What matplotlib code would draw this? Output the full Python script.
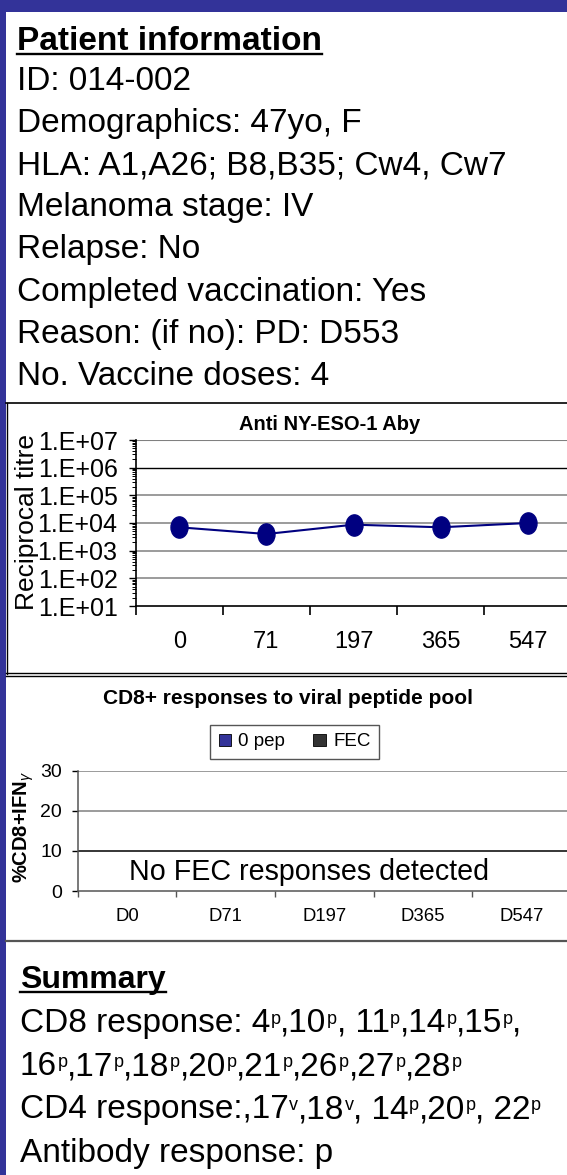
import re
import matplotlib
matplotlib.use('Agg')
import matplotlib.pyplot as plt
import matplotlib.ticker as mticker
from matplotlib import font_manager
from matplotlib.lines import Line2D
from matplotlib.patches import Rectangle
from matplotlib.path import Path
from matplotlib.transforms import Affine2D
import numpy as np

# ---- data ----
info_title = 'Patient information'
info_lines = ['ID: 014-002',
              'Demographics: 47yo, F',
              'HLA: A1,A26; B8,B35; Cw4, Cw7',
              'Melanoma stage: IV',
              'Relapse: No',
              'Completed vaccination: Yes',
              'Reason: (if no): PD: D553',
              'No. Vaccine doses: 4']

aby_days = ['0', '71', '197', '365', '547']
aby_titre = [7000, 4000, 8700, 7000, 10000]

cd8_days = ['D0', 'D71', 'D197', 'D365', 'D547']
cd8_0pep = [0, 0, 0, 0, 0]
cd8_fec = [0, 0, 0, 0, 0]

summary_title = 'Summary'
# ^x marks a superscript letter
summary_lines = ['CD8 response: 4^p,10^p, 11^p,14^p,15^p,',
                 '16^p,17^p,18^p,20^p,21^p,26^p,27^p,28^p',
                 'CD4 response:,17^v,18^v, 14^p,20^p, 22^p',
                 'Antibody response: p']

# ---- fonts ----
names = {f.name for f in font_manager.fontManager.ttflist}
narrow = 'Liberation Sans Narrow' in names
plt.rcParams['font.family'] = ['Liberation Sans', 'DejaVu Sans']
plt.rcParams['mathtext.fontset'] = 'custom'
plt.rcParams['mathtext.rm'] = 'Liberation Sans'
plt.rcParams['mathtext.it'] = 'Liberation Sans:italic'
plt.rcParams['mathtext.bf'] = 'Liberation Sans:bold'

W, H = 567, 1175
BLUE = '#333399'


def fx(x):
    return x / W


def fy(y):
    return 1 - y / H


def rect(x0, y0, x1, y1):
    return [x0 / W, 1 - y1 / H, (x1 - x0) / W, (y1 - y0) / H]


def hline(y, x0=6, x1=567, color='black', lw=1.0):
    fig.add_artist(Line2D([fx(x0), fx(x1)], [fy(y), fy(y)], color=color, lw=lw))


fig = plt.figure(figsize=(W / 100, H / 100), dpi=100)
fig.patch.set_facecolor('white')

# frame
fig.add_artist(Rectangle((0, fy(12)), 1, 12 / H, color=BLUE, lw=0))
fig.add_artist(Rectangle((0, 0), 6 / W, 1, color=BLUE, lw=0))

renderer = fig.canvas.get_renderer()


def heading(x, y, s, size):
    t = fig.text(fx(x), fy(y), s, fontsize=size, fontweight='bold', va='baseline', ha='left')
    bb = t.get_window_extent(renderer=renderer)
    fig.add_artist(Line2D([bb.x0 / W, bb.x1 / W], [fy(y + 3.5)] * 2, color='black', lw=1.7))


def sup_line(x, y, s, size=24, sup_size=13, raise_px=8):
    # draw a line with small superscripts, piece by piece
    parts = re.split(r'\^(\w)', s)
    cur = x
    for i, p in enumerate(parts):
        if not p:
            continue
        if i % 2 == 0:
            t = fig.text(fx(cur), fy(y), p, fontsize=size, va='baseline', ha='left')
        else:
            t = fig.text(fx(cur + 0.5), fy(y - raise_px), p, fontsize=sup_size,
                         va='baseline', ha='left')
        cur += t.get_window_extent(renderer=renderer).width


# ---- patient information ----
heading(17, 50, info_title, 24)
for i, s in enumerate(info_lines):
    fig.text(fx(17), fy(90 + i * 42.1), s, fontsize=24, va='baseline', ha='left')

# separators
hline(403, lw=1.2)
fig.add_artist(Line2D([fx(7), fx(7)], [fy(403), fy(674)], color='black', lw=1.0))
hline(672.5, lw=1.0)
hline(675.5, lw=1.0)
hline(940.5, color='#555555', lw=1.6)

# ---- chart 1: antibody titre ----
ell = Path.unit_circle().transformed(Affine2D().scale(0.8, 1.0))
ax1 = fig.add_axes(rect(135.6, 440, 571.6, 606))
x = np.arange(len(aby_days))
ax1.set_yscale('log')
ax1.set_ylim(10, 1e7)
ax1.set_xlim(-0.5, 4.5)
for k, c, w in [(2, '#808080', 1.1), (3, '#808080', 1.1), (4, '#808080', 1.1),
                (5, '#808080', 1.1), (6, 'black', 1.0), (7, '#808080', 1.5)]:
    ax1.axhline(10 ** k, color=c, lw=w, zorder=1)
ax1.plot(x, aby_titre, color='#000080', lw=1.5, marker=ell, ms=15.3, zorder=3, clip_on=False)
ax1.set_yticks([10 ** k for k in range(1, 8)])
ax1.set_yticklabels(['1.E+%02d' % k for k in range(1, 8)])
ax1.yaxis.set_minor_locator(mticker.LogLocator(base=10, subs=np.arange(2, 10), numticks=20))
ax1.yaxis.set_minor_formatter(mticker.NullFormatter())
ax1.tick_params(axis='y', which='major', length=5, width=1, pad=8, labelsize=18)
ax1.tick_params(axis='y', which='minor', length=3, width=0.7)
ax1.set_xticks(np.arange(-0.5, 5, 1))
ax1.set_xticklabels([''] * 6)
ax1.set_xticks(x, minor=True)
ax1.set_xticklabels(aby_days, minor=True)
ax1.tick_params(axis='x', which='major', length=6.5, width=1.2)
ax1.tick_params(axis='x', which='minor', length=0, pad=18, labelsize=20 if narrow else 17)
if narrow:
    for t in ax1.get_xticklabels(minor=True):
        t.set_family('Liberation Sans Narrow')
for s in ['top', 'right']:
    ax1.spines[s].set_visible(False)
ax1.spines['left'].set_linewidth(1.2)
ax1.spines['bottom'].set_linewidth(1.2)
fig.text(fx(329.6), fy(425), 'Anti NY-ESO-1 Aby', fontsize=14.5, fontweight='bold',
         ha='center', va='center')
fig.text(fx(27), fy(522.5), 'Reciprocal titre', fontsize=19, rotation=90,
         ha='center', va='center')

# ---- chart 2: CD8 responses ----
ax2 = fig.add_axes(rect(77.8, 770.7, 570.8, 891))
x2 = np.arange(len(cd8_days))
ax2.set_ylim(0, 30)
ax2.set_xlim(-0.5, 4.5)
for v, c in [(10, 'black'), (20, '#808080'), (30, '#808080')]:
    ax2.axhline(v, color=c, lw=1.1, zorder=1)
b1 = ax2.bar(x2 - 0.18, cd8_0pep, 0.35, color=BLUE, edgecolor='black', lw=0.6, label='0 pep')
b2 = ax2.bar(x2 + 0.18, cd8_fec, 0.35, color='#333333', edgecolor='black', lw=0.6, label='FEC')
ax2.set_yticks([0, 10, 20, 30])
ax2.tick_params(axis='y', length=4.3, width=1, pad=7, labelsize=14, colors='black')
ax2.set_xticks(np.arange(-0.5, 5, 1))
ax2.set_xticklabels([''] * 6)
ax2.set_xticks(x2, minor=True)
ax2.set_xticklabels(cd8_days, minor=True)
ax2.tick_params(axis='x', which='major', length=4.3, width=1, color='#555555')
ax2.tick_params(axis='x', which='minor', length=0, pad=12, labelsize=13.3)
for s in ['top', 'right']:
    ax2.spines[s].set_visible(False)
ax2.spines['left'].set_color('#555555')
ax2.spines['bottom'].set_color('#555555')
ax2.spines['left'].set_linewidth(1.1)
ax2.spines['bottom'].set_linewidth(1.1)
leg = ax2.legend(handles=[b1, b2], loc='center', bbox_to_anchor=(fx(294.5), fy(742)),
                 bbox_transform=fig.transFigure, ncol=2, frameon=True, fancybox=False,
                 edgecolor='#555555', framealpha=1, fontsize=13.5, handlelength=0.65,
                 handleheight=0.65, handletextpad=0.4, columnspacing=1.5, borderpad=0.45)
leg.get_frame().set_linewidth(1.0)
fig.text(fx(287.7), fy(698), 'CD8+ responses to viral peptide pool', fontsize=15,
         fontweight='bold', ha='center', va='center')
fig.text(fx(24), fy(827), r'%CD8+IFN$_{\gamma}$', fontsize=14.5, fontweight='bold',
         rotation=90, ha='center', va='center')
fig.text(fx(309), fy(880), 'No FEC responses detected', fontsize=20.6,
         ha='center', va='baseline')

# ---- summary ----
heading(20, 988, summary_title, 23)
for i, s in enumerate(summary_lines):
    sup_line(20, 1031.7 + i * 43.3, s)

fig.savefig('out.png', dpi=100)
